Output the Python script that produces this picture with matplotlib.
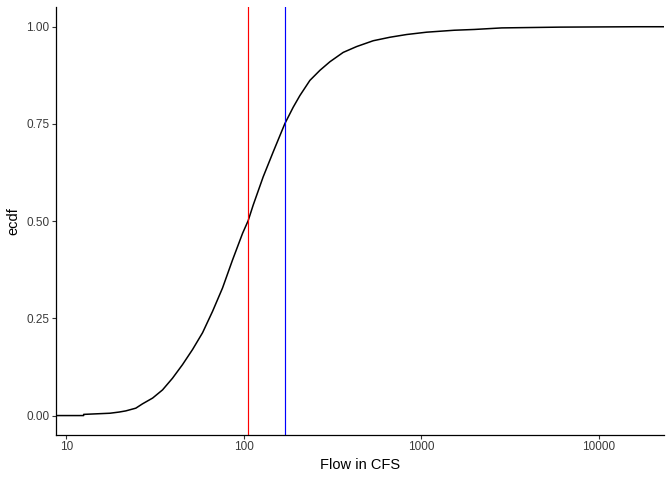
import matplotlib
matplotlib.use("Agg")
import matplotlib.pyplot as plt
import matplotlib.ticker as mticker
import numpy as np

# ECDF: flow values (CFS) and cumulative fraction
flow = [12.5, 12.5, 17.6, 19.8, 21.6, 24.6, 26.8, 30.6, 34.8, 39.6, 45.1, 51.4,
        58.5, 66.6, 75.8, 86.3, 98.4, 105.7, 112.8, 128.5, 146.3, 170.3, 189.7,
        206.9, 235.6, 268.5, 305.6, 363, 432, 536, 666, 827, 1072, 1535, 1990,
        2839, 6050, 16370]
ecdf = [0.000, 0.003, 0.006, 0.009, 0.012, 0.019, 0.030, 0.045, 0.066, 0.096,
        0.131, 0.170, 0.213, 0.268, 0.328, 0.400, 0.469, 0.501, 0.541, 0.614,
        0.678, 0.751, 0.793, 0.823, 0.862, 0.888, 0.910, 0.934, 0.949, 0.964,
        0.973, 0.980, 0.986, 0.991, 0.993, 0.997, 0.999, 1.000]
median_flow = 105.7
q75_flow = 170.3
x_ticks = [10, 100, 1000, 10000]
y_ticks = [0.0, 0.25, 0.5, 0.75, 1.0]

plt.rcParams['font.family'] = ['Liberation Sans', 'DejaVu Sans']

fig = plt.figure(figsize=(6.72, 4.8), dpi=100)
ax = fig.add_axes([56/672, 45/480, (664.3-56)/672, (435-7.3)/480])

lo, hi = np.log10(min(flow)), np.log10(max(flow))
pad = 0.05 * (hi - lo)
xmin, xmax = 10**(lo - pad), 10**(hi + pad)

xs = [xmin] + flow + [xmax]
ys = [0.0] + ecdf + [1.0]
ax.plot(xs, ys, color='black', lw=1.1, solid_joinstyle='round')
ax.axvline(median_flow, color='red', lw=0.85)
ax.axvline(q75_flow, color='blue', lw=0.85)

ax.set_xscale('log')
ax.set_xlim(xmin, xmax)
ax.set_ylim(-0.05, 1.05)
ax.set_xticks(x_ticks)
ax.xaxis.set_major_formatter(mticker.FuncFormatter(lambda v, p: f"{int(round(v))}"))
ax.xaxis.set_minor_locator(mticker.NullLocator())
ax.set_yticks(y_ticks)
ax.set_yticklabels([f"{v:.2f}" for v in y_ticks])

for s in ['top', 'right']:
    ax.spines[s].set_visible(False)
for s in ['left', 'bottom']:
    ax.spines[s].set_linewidth(0.9)
    ax.spines[s].set_color('black')
ax.tick_params(axis='both', length=2.64, width=0.8, color='#333333',
               labelsize=8.45, labelcolor='#3A3A3A', pad=2)

ax.set_xlabel('Flow in CFS', fontsize=10.56, color='black', labelpad=3)
ax.set_ylabel('ecdf', fontsize=10.56, color='black', labelpad=4)

fig.savefig('out.png', dpi=100, facecolor='white')
